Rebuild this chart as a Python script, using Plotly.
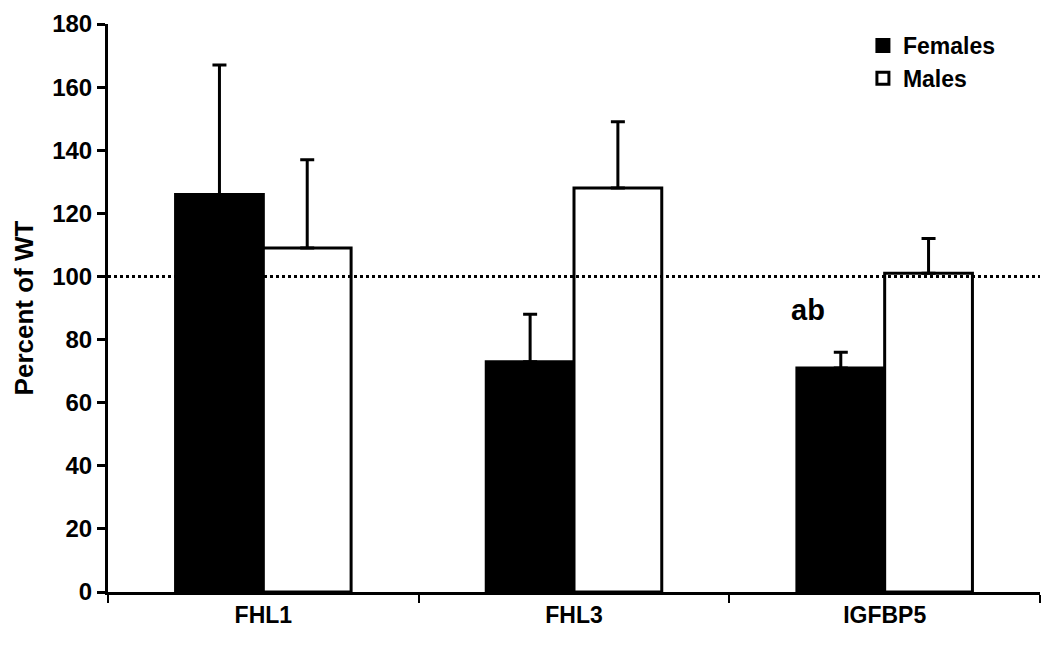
import plotly.graph_objects as go

genes = ["FHL1", "FHL3", "IGFBP5"]
females = [126, 73, 71]
females_err = [41, 15, 5]
males = [109, 128, 101]
males_err = [28, 21, 11]
zeros = [0, 0, 0]

font_family = "Liberation Sans, Arial, sans-serif"

fig = go.Figure()
fig.add_trace(go.Bar(
    x=genes, y=females, name="<b>Females</b>",
    marker=dict(color="black", line=dict(color="black", width=3)),
    error_y=dict(type="data", symmetric=False, array=females_err, arrayminus=zeros,
                 color="black", thickness=3, width=7),
))
fig.add_trace(go.Bar(
    x=genes, y=males, name="<b>Males</b>",
    marker=dict(color="white", line=dict(color="black", width=3)),
    error_y=dict(type="data", symmetric=False, array=males_err, arrayminus=zeros,
                 color="black", thickness=3, width=7),
))

# reference line at 100% of WT
fig.add_shape(type="line", xref="paper", yref="y", x0=0, x1=1, y0=100, y1=100,
              line=dict(color="black", width=3, dash="dot"), layer="above")

fig.add_annotation(x="IGFBP5", y=89.5, text="<b>ab</b>", showarrow=False,
                   xshift=-77, font=dict(size=29, color="black", family=font_family))

fig.update_layout(
    width=1050, height=648,
    margin=dict(l=100, r=18, t=16, b=64),
    paper_bgcolor="white", plot_bgcolor="white",
    barmode="group", bargap=0.435, bargroupgap=0,
    font=dict(family=font_family, color="black"),
    showlegend=True,
    legend=dict(x=0.81, y=1.0, xanchor="left", yanchor="top",
                font=dict(size=23, family=font_family), bgcolor="rgba(0,0,0,0)",
                tracegroupgap=0, itemwidth=30),
)
fig.update_xaxes(
    showline=True, linecolor="black", linewidth=3,
    ticks="outside", tickson="boundaries", ticklen=8, tickwidth=2, tickcolor="black",
    tickfont=dict(size=23, family=font_family), tickprefix="<b>", ticksuffix="</b>",
    showgrid=False, zeroline=False, automargin=False,
)
fig.update_yaxes(
    range=[0, 180], dtick=20,
    showline=True, linecolor="black", linewidth=3,
    ticks="outside", ticklen=8, tickwidth=3, tickcolor="black",
    tickfont=dict(size=24, family=font_family), tickprefix="<b>", ticksuffix="</b>",
    ticklabeloverflow="allow",
    title=dict(text="<b>Percent of WT</b>", font=dict(size=26, family=font_family), standoff=12),
    showgrid=False, zeroline=False, automargin=False,
)

fig.write_html("out.html")
